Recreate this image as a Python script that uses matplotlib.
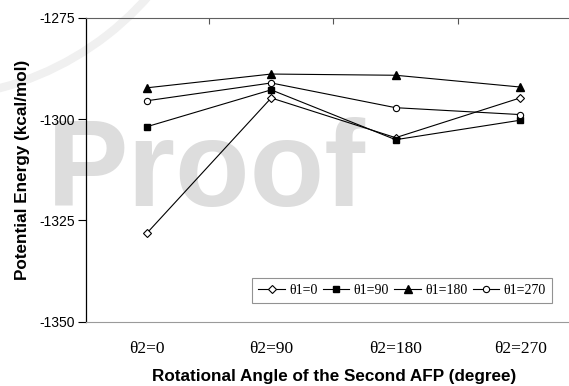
import matplotlib
matplotlib.use("Agg")
import matplotlib.pyplot as plt
from matplotlib.patches import Arc

# ---- data ----
categories = ["θ2=0", "θ2=90", "θ2=180", "θ2=270"]
series_labels = ["θ1=0", "θ1=90", "θ1=180", "θ1=270"]
theta1_0 = [-1328.2, -1294.8, -1304.6, -1294.8]
theta1_90 = [-1301.9, -1292.8, -1305.1, -1300.3]
theta1_180 = [-1292.3, -1288.9, -1289.2, -1292.1]
theta1_270 = [-1295.5, -1291.1, -1297.2, -1298.9]
yticks = [-1275, -1300, -1325, -1350]

SANS = "Liberation Sans"
SERIF = "Liberation Serif"

W, H = 569, 386
fig = plt.figure(figsize=(W / 100, H / 100), dpi=100)
fig.patch.set_facecolor("white")

# watermark (behind the axes)
fig.text(47 / W, 1 - 206 / H, "Proof", fontsize=88, fontweight="bold",
         family=SANS, color="#dddddd", ha="left", va="baseline", zorder=-2)
arc = Arc((-76 / W, (H + 200) / H), 2 * 298 / W, 2 * 298 / H, theta1=-85, theta2=-30,
          transform=fig.transFigure, color="#f0f0f0", lw=6, zorder=-3)
fig.add_artist(arc)

ax = fig.add_axes([86 / W, 1 - 321.7 / H, 496.3 / W, 304 / H])
ax.patch.set_visible(False)

x = list(range(len(categories)))
common = dict(color="black", lw=0.8)
ax.plot(x, theta1_0, marker="D", ms=4.2, mfc="white", mec="black", mew=0.8,
        label=series_labels[0], **common)
ax.plot(x, theta1_90, marker="s", ms=4.5, mfc="black", mec="black",
        label=series_labels[1], **common)
ax.plot(x, theta1_180, marker="^", ms=5.5, mfc="black", mec="black",
        label=series_labels[2], **common)
ax.plot(x, theta1_270, marker="o", ms=4.5, mfc="white", mec="black", mew=0.8,
        label=series_labels[3], **common)

ax.set_xlim(-0.488, 3.5)
ax.set_ylim(-1350, -1275)
ax.set_yticks(yticks)
ax.set_yticklabels([str(v) for v in yticks], family=SANS, fontsize=10)
ax.set_xticks(x)
ax.set_xticklabels(categories, family=SERIF, fontsize=12.5)
ax.set_xticks([0.5, 1.5, 2.5], minor=True)

ax.tick_params(axis="y", direction="out", length=6, width=0.8, pad=2, colors="black")
ax.tick_params(axis="x", which="major", length=0, pad=14)
ax.tick_params(axis="x", which="minor", bottom=False, top=True, direction="in",
               length=4, width=0.8, color="#555555")

ax.spines["left"].set_color("black")
ax.spines["left"].set_linewidth(0.9)
ax.spines["top"].set_color("#606060")
ax.spines["top"].set_linewidth(0.8)
ax.spines["bottom"].set_color("#9a9a9a")
ax.spines["bottom"].set_linewidth(0.8)
ax.spines["right"].set_visible(False)

leg = ax.legend(loc="center", bbox_to_anchor=(402 / W, 1 - 290.5 / H),
                bbox_transform=fig.transFigure, ncol=4, frameon=True, fancybox=False,
                prop={"family": SERIF, "size": 10}, handlelength=1.9,
                handletextpad=0.3, columnspacing=0.4, borderpad=0.45,
                borderaxespad=0)
leg.get_frame().set_edgecolor("#777777")
leg.get_frame().set_linewidth(0.8)

fig.text(23 / W, 1 - 169.7 / H, "Potential Energy (kcal/mol)", rotation=90,
         family=SANS, fontweight="bold", fontsize=12.3, ha="center", va="center")
fig.text(334 / W, 1 - 381 / H, "Rotational Angle of the Second AFP (degree)",
         family=SANS, fontweight="bold", fontsize=12.3, ha="center", va="baseline")

fig.savefig("out.png", dpi=100)
